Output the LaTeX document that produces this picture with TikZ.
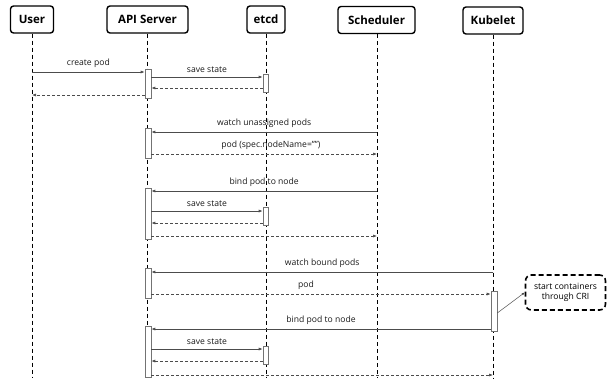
\documentclass[tikz,border=0pt]{standalone}
\usepackage{fontspec}
\setmainfont{Open Sans}
\usetikzlibrary{arrows.meta,calc}
\begin{document}
\begin{tikzpicture}[x=1pt,y=-1pt,
  head/.style={draw, line width=1.4pt, rounded corners=3pt, minimum height=27pt, inner sep=0pt, font=\fontsize{11.5}{13}\selectfont\bfseries},
  life/.style={line width=0.8pt, dash pattern=on 4pt off 3pt},
  act/.style={draw=black!55, fill=white, minimum width=6pt, inner sep=0pt, line width=0.6pt},
  msg/.style={draw=black!70, line width=0.65pt, -{Latex[length=4pt,width=3pt]}},
  ret/.style={msg, dash pattern=on 3pt off 2pt},
  lbl/.style={font=\fontsize{8.6}{10}\selectfont, above=0.3pt, text=black!90},
  notebox/.style={draw, line width=1.6pt, dash pattern=on 5pt off 3pt, rounded corners=6pt, minimum width=80pt, minimum height=35pt, align=center, inner sep=1pt, font=\fontsize{8.6}{10.5}\selectfont},
  noteline/.style={draw=black!70, line width=0.5pt, -{Latex[length=3pt,width=2.5pt]}}
]
\useasboundingbox (0,0) rectangle (607,378);
% headers
\node[head, minimum width=43pt] (user) at (32,19.5) {User};
\node[head, minimum width=81pt] (api) at (147.5,19.5) {API Server};
\node[head, minimum width=38pt] (etcd) at (266,19.5) {etcd};
\node[head, minimum width=77pt] (sched) at (376.5,20) {Scheduler};
\node[head, minimum width=60pt] (kube) at (493,20.5) {Kubelet};
% lifelines
\coordinate (userend) at (32,378);
\coordinate (apiend) at (147,378);
\coordinate (etcdend) at (266,378);
\coordinate (schedend) at (377,378);
\coordinate (kubeend) at (493,378);
\draw[life] (user.south -| userend) -- (userend);
\draw[life] (api.south -| apiend) -- (apiend);
\draw[life] (etcd.south -| etcdend) -- (etcdend);
\draw[life] (sched.south -| schedend) -- (schedend);
\draw[life] (kube.south -| kubeend) -- (kubeend);
% activations
\node[act, minimum height=29pt] (a1) at (148,83.5) {};
\node[act, minimum height=18pt, minimum width=5pt] (e1) at (265.5,83) {};
\node[act, minimum height=30pt] (a2) at (148,143) {};
\node[act, minimum height=51pt] (a3) at (148,213.5) {};
\node[act, minimum height=18pt, minimum width=5pt] (e2) at (265.5,216) {};
\node[act, minimum height=30pt] (a4) at (148,283) {};
\node[act, minimum height=40pt] (k1) at (494,311) {};
\node[act, minimum height=51pt] (a5) at (148,351.5) {};
\node[act, minimum height=18pt, minimum width=5pt] (e3) at (265.5,355) {};
% messages
\draw[msg] (userend |- 0,72) -- node[lbl]{create pod} (a1.west |- 0,72);
\draw[msg] (a1.east |- 0,77) -- node[lbl]{save state} (e1.west |- 0,77);
\draw[ret] (e1.west |- 0,88) -- (a1.east |- 0,88);
\draw[ret] (a1.west |- 0,95) -- (userend |- 0,95);
\draw[msg] (schedend |- 0,132) -- node[lbl]{watch unassigned pods} (a2.east |- 0,132);
\draw[ret] (a2.east |- 0,154) -- node[lbl, pos=0.53]{pod (spec.nodeName="")} (schedend |- 0,154);
\draw[msg] (schedend |- 0,191) -- node[lbl]{bind pod to node} (a3.east |- 0,191);
\draw[msg] (a3.east |- 0,211) -- node[lbl]{save state} (e2.west |- 0,211);
\draw[ret] (e2.west |- 0,223) -- (a3.east |- 0,223);
\draw[ret] (a3.east |- 0,236) -- (schedend |- 0,236);
\draw[msg] (kubeend |- 0,272) -- node[lbl]{watch bound pods} (a4.east |- 0,272);
\draw[ret] (a4.east |- 0,294) -- node[lbl, pos=0.456]{pod} (k1.west |- 0,294);
\draw[msg] (k1.west |- 0,329) -- node[lbl]{bind pod to node} (a5.east |- 0,329);
\draw[msg] (a5.east |- 0,349) -- node[lbl]{save state} (e3.west |- 0,349);
\draw[ret] (e3.west |- 0,361) -- (a5.east |- 0,361);
\draw[ret] (a5.east |- 0,375) -- (kubeend |- 0,375);
% note
\node[notebox] (note) at (565.5,292.5) {start containers\\through CRI};
\draw[noteline] ($(k1.east)+(0,2)$) -- (note.west);
\end{tikzpicture}
\end{document}
